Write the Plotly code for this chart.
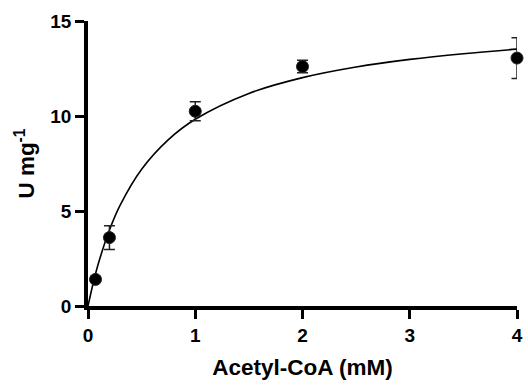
import plotly.graph_objects as go

# Measured activity (mean ± SD) at each acetyl-CoA concentration
conc_mM = [0.07, 0.2, 1, 2, 4]
activity = [1.4, 3.6, 10.25, 12.6, 13.05]
activity_sd = [0.15, 0.63, 0.5, 0.33, 1.07]

# Michaelis-Menten fit line, sampled along the concentration axis
fit_conc = [0, 0.05, 0.1, 0.2, 0.3, 0.5, 0.75, 1, 1.5, 2, 2.5, 3, 3.5, 4]
fit_activity = [0, 1.24, 2.3, 4.0, 5.31, 7.2, 8.76, 9.83, 11.19, 12.02, 12.58, 12.98, 13.28, 13.52]

x_ticks = [0, 1, 2, 3, 4]
y_ticks = [0, 5, 10, 15]

font_family = "Arial, Liberation Sans, sans-serif"

fig = go.Figure()

fig.add_trace(go.Scatter(
    x=fit_conc, y=fit_activity, mode="lines",
    line=dict(color="black", width=1.6, shape="spline"),
    hoverinfo="skip", cliponaxis=False,
))

fig.add_trace(go.Scatter(
    x=conc_mM, y=activity, mode="markers",
    marker=dict(size=12, color="black", line=dict(color="#222", width=1)),
    error_y=dict(type="data", array=activity_sd, visible=True,
                 color="#222", thickness=1.5, width=5.5),
    cliponaxis=False,
))

axis_common = dict(
    showgrid=False, zeroline=False, automargin=False,
    showline=True, linecolor="black", linewidth=3.5,
    ticks="outside", ticklen=9, tickwidth=3, tickcolor="black",
    tickfont=dict(family=font_family, size=19, color="black", weight="bold"),
)

fig.update_layout(
    width=528, height=386,
    margin=dict(l=88, r=11, t=21, b=80),
    paper_bgcolor="white", plot_bgcolor="white",
    showlegend=False,
    xaxis=dict(
        range=[0, 4], tickvals=x_ticks,
        title=dict(text="Acetyl-CoA (mM)", standoff=16,
                   font=dict(family=font_family, size=22.5, color="black", weight="bold")),
        **axis_common,
    ),
    yaxis=dict(
        range=[0, 15], tickvals=y_ticks,
        title=dict(text="U mg<sup>-1</sup>", standoff=10,
                   font=dict(family=font_family, size=22.5, color="black", weight="bold")),
        **axis_common,
    ),
)

fig.write_html("out.html")
